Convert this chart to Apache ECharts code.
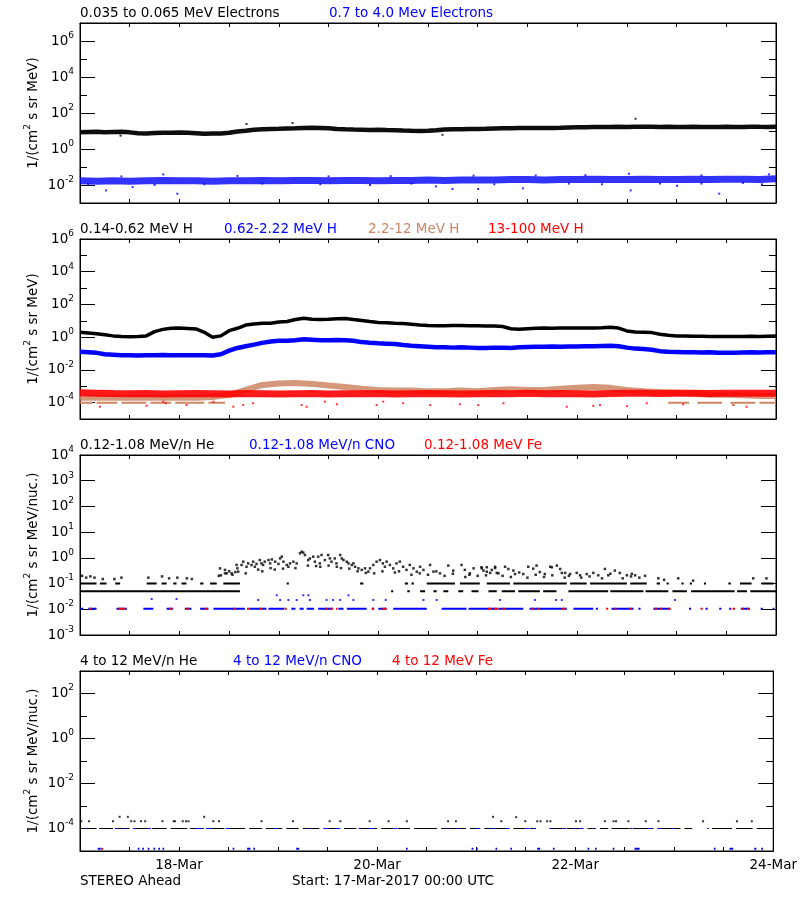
<!DOCTYPE html>
<html>
<head>
<meta charset="utf-8">
<script src="https://cdn.jsdelivr.net/npm/echarts@6/dist/echarts.min.js"></script>
<style>html,body{margin:0;padding:0;background:#fff;}#c{width:800px;height:900px;}</style>
</head>
<body>
<div id="c"></div>
<script>
// ---------- time grids (hours since 17-Mar-2017 00:00 UTC) ----------
const hours2 = [0,2,4,6,8,10,12,14,16,18,20,22,24,26,28,30,32,34,36,38,40,42,44,46,48,50,52,54,56,58,60,62,64,66,68,70,72,74,76,78,80,82,84,86,88,90,92,94,96,98,100,102,104,106,108,110,112,114,116,118,120,122,124,126,128,130,132,134,136,138,140,142,144,146,148,150,152,154,156,158,160,162,164,166,168];
const hours4 = [0,4,8,12,16,20,24,28,32,36,40,44,48,52,56,60,64,68,72,76,80,84,88,92,96,100,104,108,112,116,120,124,128,132,136,140,144,148,152,156,160,164,168];
const dayTickHours = [24,72,120,168];
const dayTickLabels = ['18-Mar','20-Mar','22-Mar','24-Mar'];

// ---------- panel 1: electrons ----------
const elecLow = [8.5,8.8,9.0,8.6,8.9,9.1,8.4,7.4,7.2,7.8,8.0,7.9,8.2,8.0,7.6,7.0,7.2,7.3,8.0,9.3,10.2,11.8,12.5,13.0,13.2,13.8,14.0,14.5,15.0,14.8,14.2,13.0,12.4,12.0,11.8,11.5,11.8,11.3,11.0,10.5,10.2,10.0,10.3,11.0,12.0,12.5,12.7,12.9,13.0,13.2,13.6,14.0,14.3,14.5,14.6,14.8,14.5,14.9,15.2,15.6,16.0,16.2,16.6,16.8,16.5,17.0,16.8,17.2,17.0,17.2,16.8,17.0,16.6,16.8,17.0,16.5,16.7,16.9,17.1,16.7,16.8,17.2,17.0,16.9,17.0];
const elecLowOut = [[9.8,5.5],[40.2,24.5],[51.3,27.7],[87.5,6.2],[134.1,48]];
const elecHigh = [0.017,0.016,0.017,0.016,0.017,0.018,0.017,0.017,0.016,0.017,0.017,0.018,0.017,0.018,0.018,0.017,0.018,0.018,0.017,0.018,0.018,0.019,0.018,0.019,0.019,0.019,0.020,0.020,0.019,0.020,0.020,0.021,0.020,0.020,0.021,0.020,0.020,0.021,0.020,0.021,0.021,0.020,0.022];
const elecHighOut = [[2,0.011],[6.3,0.005],[12.7,0.0077],[18,0.010],[23.5,0.0033],[30,0.011],[44,0.012],[58,0.011],[70,0.010],[80,0.012],[85.9,0.0084],[89.9,0.006],[96.1,0.006],[100,0.011],[106.9,0.0065],[118,0.012],[126,0.011],[132.9,0.005],[140,0.012],[144.1,0.009],[150,0.012],[154.3,0.0033],[160,0.013],[164.6,0.011],[10,0.030],[20.1,0.039],[38,0.032],[60,0.030],[75,0.031],[95,0.033],[110,0.034],[122,0.035],[132.5,0.042],[150,0.034],[166.3,0.039]];

// ---------- panel 2: protons ----------
const protA = [2.0,1.8,1.6,1.4,1.2,1.1,1.05,1.1,1.2,2.2,3.0,3.5,3.6,3.4,3.2,2.0,1.0,1.2,2.5,3.5,5.5,6.3,7.0,7.2,8.5,9.0,12,14.5,12.5,12,12.5,13.5,14,12,10.5,9,8,7.5,7.0,6.8,6.2,5.6,5.2,5.0,5.0,5.1,5.2,5.0,5.0,4.9,4.8,4.5,3.3,3.1,3.3,3.5,3.6,3.5,3.6,3.6,3.7,3.6,3.7,3.8,4.0,3.6,2.4,2.1,2.0,1.9,1.5,1.3,1.2,1.2,1.15,1.15,1.1,1.1,1.1,1.1,1.1,1.15,1.1,1.15,1.2];
const protB = [0.13,0.12,0.11,0.09,0.085,0.08,0.08,0.075,0.08,0.08,0.082,0.08,0.08,0.078,0.08,0.078,0.075,0.09,0.15,0.22,0.28,0.35,0.45,0.55,0.6,0.6,0.65,0.75,0.7,0.65,0.66,0.68,0.66,0.6,0.5,0.45,0.42,0.4,0.38,0.33,0.3,0.28,0.26,0.24,0.24,0.23,0.24,0.23,0.22,0.22,0.23,0.23,0.22,0.24,0.25,0.26,0.26,0.27,0.26,0.27,0.27,0.28,0.28,0.29,0.3,0.28,0.23,0.2,0.19,0.17,0.14,0.13,0.125,0.12,0.12,0.115,0.12,0.11,0.11,0.11,0.115,0.12,0.115,0.12,0.12];
const protC = [2.0e-4,2.0e-4,2.0e-4,2.0e-4,2.0e-4,2.0e-4,2.0e-4,2.0e-4,2.2e-4,3.0e-4,6e-4,1.2e-3,1.5e-3,1.6e-3,1.4e-3,1.1e-3,9e-4,7e-4,6e-4,5.5e-4,5.5e-4,5e-4,5e-4,5.5e-4,5e-4,6e-4,6.5e-4,6e-4,6e-4,7e-4,8e-4,9e-4,8e-4,6e-4,5e-4,4.5e-4,4e-4,3.5e-4,3e-4,3e-4,2.8e-4,2.5e-4,2.5e-4];
const protCFloor = [[0,3],[4,9],[10,16],[17,22],[23,30],[31,35],[142,147],[149,155],[157,163],[164,168]];
const protD = [4.0e-4,3.8e-4,3.6e-4,3.5e-4,3.6e-4,3.4e-4,3.5e-4,3.6e-4,3.5e-4,3.4e-4,3.6e-4,3.5e-4,3.4e-4,3.5e-4,3.6e-4,3.4e-4,3.5e-4,3.5e-4,3.6e-4,3.4e-4,3.5e-4,3.6e-4,3.5e-4,3.4e-4,3.5e-4,3.6e-4,3.5e-4,3.7e-4,3.5e-4,3.6e-4,3.5e-4,3.4e-4,3.6e-4,3.8e-4,3.7e-4,3.6e-4,3.8e-4,3.7e-4,3.6e-4,3.8e-4,3.7e-4,3.8e-4,3.7e-4];
const protDOut = [[4.8,5.6e-5],[16.1,6.5e-5],[20.1,1.15e-4],[20.7,9.2e-5],[25.7,7.1e-5],[32.2,1.15e-4],[37,5.6e-5],[39.4,7.1e-5],[41.8,9.2e-5],[53.5,7.1e-5],[54.7,5.6e-5],[59.1,1.15e-4],[62,7.9e-5],[71.6,7.1e-5],[73.2,1.15e-4],[78,9.2e-5],[84.5,7.1e-5],[91.7,7.9e-5],[96.1,7.1e-5],[102.2,9.2e-5],[117.5,5.6e-5],[123.9,6.4e-5],[125.5,7.1e-5],[132,6.1e-5],[136.8,9.2e-5],[145.6,7.9e-5],[157.7,7.1e-5],[160.9,5.6e-5]];

// ---------- panel 3: 0.12-1.08 MeV/n heavy ions ----------
const heLevelLow = 0.05, heLevelMid = 0.1, ionLevel = 0.0105;
const heLowSegs = [[0,38.6],[75.1,75.6],[79,79.6],[82.1,83.3],[85.3,86.1],[87.7,88.9],[91.3,92.5],[94.5,96.2],[98.6,100.6],[101.8,105],[105.8,111],[111.8,115],[117.9,127.5],[128,136],[136.5,142],[143,146.5],[147.5,158],[158.6,161],[161.8,168]];
const heMidSegs = [[0.1,4],[4.8,6.4],[8.5,9.7],[16.1,18.5],[19.7,20.9],[22.5,23.3],[24.5,25.7],[29,29.8],[31.4,33],[34.6,38.6],[49.9,50.4],[67.6,68.4],[78.4,79.2],[80,80.6],[83.7,90.5],[91.7,96.5],[98.2,103.8],[104.6,117.5],[118.3,122.3],[123.1,132],[132.8,136.8],[139.2,140],[141.6,142.1],[145.2,145.7],[147.2,147.7],[150.6,151.1],[156.5,157.1],[159.3,162.1],[164.5,167.4]];
const heCloud = [[0.5,0.2],[1.5,0.17],[2.5,0.19],[3.5,0.17],[5.5,0.15],[8.3,0.15],[10,0.17],[16.5,0.17],[19.8,0.19],[21.5,0.16],[23.5,0.17],[25.8,0.16],[27,0.15],[33.5,0.2],[35,0.25],[36,0.3],[36.8,0.22],[37.5,0.28],
[33.8,0.39],[35.0,0.34],[34.0,0.21],[35.4,0.25],[36.6,0.25],[37.8,0.53],[38.2,0.29],[38.0,0.39],[39.0,0.53],[39.4,0.71],[40.2,0.45],[40.6,0.61],[41.4,0.53],[41.8,0.71],[42.2,0.45],[42.6,0.58],[43.4,0.82],[43.8,0.61],[44.2,0.53],[44.6,0.71],[45.5,0.82],[45.9,0.61],[46.3,0.87],[47.1,0.71],[47.9,0.58],[48.3,0.95],[48.7,1.11],[49.1,0.71],[49.9,0.53],[50.3,0.45],[50.7,0.61],[51.5,0.71],[52.3,0.61],[53.1,1.5],[53.5,1.74],[53.9,1.6],[54.3,1.29],[55.1,0.82],[55.5,0.95],[56.3,1.11],[56.7,0.71],[57.5,1.11],[57.9,0.61],[58.3,1.29],[59.1,0.82],[59.9,1.29],[60.3,0.95],[60.7,0.71],[61.5,0.95],[61.9,0.61],[62.8,1.29],[63.2,0.95],[63.6,0.82],[64.4,0.71],[64.8,0.61],[65.6,0.53],[66.0,0.61],[66.4,0.45],[67.2,0.39],[68.0,0.34],[68.8,0.39],[69.6,0.29],[70.0,0.39],[70.8,0.53],[71.6,0.71],[72.4,0.82],[73.1,0.61],[73.6,0.45],[74.0,0.71],[74.8,0.53],[75.6,0.39],[76.4,0.61],[77.2,0.71],[78.0,0.45],[78.8,0.34],[79.6,0.53],[80.5,0.39],[81.3,0.29],[82.1,0.45],[82.9,0.34],[84.5,0.53],[85.3,0.29],[86.9,0.25],[88.9,0.5],[90.1,0.32],[92.1,0.53],[92.9,0.34],[94.1,0.25],[95.0,0.39],[97.0,0.39],[98.2,0.29],[99.4,0.34],[100.2,0.45],[101.0,0.25],
[96.9,0.43],[98.2,0.43],[100.2,0.4],[97.4,0.32],[99.0,0.26],[100.6,0.26],[102.6,0.45],[103.4,0.37],[104.6,0.32],[105.0,0.235],[107.0,0.235],[108.2,0.45],[109.4,0.38],[110.2,0.5],[111.0,0.28],[112.2,0.235],[113.5,0.45],[113.9,0.43],[115.1,0.5],[115.9,0.37],[116.3,0.26],[117.1,0.26],[118.3,0.235],[119.9,0.26],[120.7,0.21],[122.3,0.235],[123.9,0.26],[125.1,0.21],[126.7,0.37],[127.5,0.21],[129.1,0.32],[130.3,0.26],[132.0,0.21],[133.2,0.24],[134.0,0.21],[136.4,0.2],[139.6,0.16],[144.4,0.16],[162.5,0.16],[165.7,0.16],
[40,0.25],[44,0.3],[47,0.35],[52,0.4],[58,0.45],[63,0.4],[67,0.3],[71,0.25],[76,0.27],[80,0.22],[84,0.22],[88,0.2],[93,0.18],[96,0.2],[104,0.18],[108,0.17],[112,0.18],[117,0.17],[121,0.17],[126,0.16],[131,0.16],[135,0.17],[141,0.14],[148,0.13],
[43,0.35],[46,0.4],[49,0.38],[55,0.5],[57,0.48],[60,0.5],[62,0.45],[65,0.38],[69,0.26],[73,0.3],[77,0.3],[82,0.25],[86,0.3],[90,0.24],[94,0.22],[98,0.21],[102,0.2],[106,0.27],[110,0.22],[114,0.21],[118,0.2],[123,0.19],[128,0.24],[133,0.19]];
const cnoLowSegs = [[0.1,0.8],[2,4],[8.8,11.3],[15.3,17.7],[20.9,22.5],[25.3,26.9],[29,31],[32.2,39.8],[41,45],[45.5,49.3],[51,52],[53,54],[54.7,56.5],[57.5,61],[62.4,63.6],[64.4,69.2],[70.5,71],[72,74],[75.6,83.7],[87.3,93.3],[93.8,100.6],[101,107],[108.5,117.5],[119.1,123.9],[124.5,125],[128.3,133.6],[134.8,135.3],[138.4,142.4],[147,147.5],[151,151.5],[154.3,154.8],[156.7,157.2],[159.5,161.7],[164.3,164.8],[167.2,167.6]];
const cnoHighPts = [[17.3,0.025],[23.3,0.025],[43,0.023],[48.3,0.023],[50.3,0.023],[52.3,0.023],[55.5,0.023],[59.5,0.023],[61.1,0.023],[62.8,0.023],[66,0.023],[70.8,0.023],[73.8,0.023],[82.9,0.023],[86.1,0.023],[101.4,0.023],[109.8,0.023],[114.9,0.023],[116.3,0.023],[143.6,0.023],[47.5,0.035],[53.9,0.035],[55.1,0.035],[64.8,0.035]];
const feLowSegs = [[2.2,2.8],[9.3,10.8],[21.5,22.3],[25.6,26.2],[30.1,30.7],[37,37.6],[40.3,41],[43.3,44],[49.4,49.9],[59.2,59.8],[60.5,61.1],[61.8,62.2],[70.4,71],[73,74],[98.4,99.4],[100,101],[102,102.6],[109,109.6],[110.4,110.9],[116.3,117],[127,127.5],[129,129.5],[132.5,133.1],[138.7,139.2],[140,140.5],[142,142.6],[149.8,150.3],[157.5,158.1],[159.7,160.2],[161,161.5]];

// ---------- panel 4: 4-12 MeV/n heavy ions ----------
const oneCount4 = 1.0e-4, floor4 = 1.25e-5;
const he4Segs = [[0,4],[4.6,8],[8.6,12],[13,17],[17.5,21],[22,26],[26.6,30],[31,35],[35.8,40],[41,44],[45,49],[50,53],[54,58],[59,63],[64,67],[68,72],[73,76],[77,80],[81,86.5],[87.5,93.5],[94.5,97],[98,104],[105,108],[109,110.5],[113.8,117],[118,122],[123,125],[126,128],[128.8,133],[134,139],[140,145.5],[146.5,148.4],[153.2,158],[159,163],[164,168]];
const cno4Segs = [[1.5,1.9],[8.4,9.2],[10.4,11.2],[12.8,13.6],[16.4,17.2],[25.3,25.7],[28.1,29.7],[30.5,31.7],[35.3,36.1],[43.8,44.2],[47,47.8],[51.4,51.8],[55,55.8],[59.1,60.3],[61.9,63.1],[67.5,68.3],[69.9,71.1],[76,76.8],[88.8,89.6],[91.2,92],[96.1,96.9],[99.7,100.5],[103.3,104.1],[108.1,108.9],[109.7,110.1],[113.8,114.6],[117,117.8],[119.4,120.2],[121,121.8],[124.2,124.6],[133.1,133.9],[137.5,138.3],[139.9,140.7],[143.1,143.9],[152,152.4]];
const he4Dots = [[0.3,2.1e-4],[2.2,2.1e-4],[8,2.1e-4],[9.6,3.3e-4],[11.6,3.3e-4],[12.4,2.1e-4],[13.2,2.1e-4],[14.8,2.1e-4],[15.8,2.1e-4],[20,2.1e-4],[22.7,2.1e-4],[23,2.1e-4],[24.9,2.1e-4],[25.7,2.1e-4],[26.3,2.1e-4],[30.1,3.3e-4],[32.3,2.1e-4],[33.7,2.1e-4],[44,2.1e-4],[51.6,2.1e-4],[60.5,2.1e-4],[63.1,2.1e-4],[70.2,2.1e-4],[74.8,2.1e-4],[79.2,2.1e-4],[89.2,2.1e-4],[91.1,2.1e-4],[100.1,3.3e-4],[102.1,2.1e-4],[105.7,3.2e-4],[107.9,2.1e-4],[110.8,2.1e-4],[111.6,2.1e-4],[113.2,2.1e-4],[114,2.1e-4],[120.2,2.1e-4],[121.2,2.1e-4],[127.2,2.1e-4],[129.3,2.1e-4],[129.9,2.1e-4],[132.9,2.1e-4],[137.1,2.1e-4],[140.2,2.1e-4],[151,2.1e-4],[159.2,2.1e-4],[162.8,2.1e-4]];
const cno4Bottom = [[4.3,5],[14,14.4],[15.1,15.5],[16.4,16.8],[17.8,18.2],[19,19.4],[20,20.4],[37,37.4],[40.5,41.3],[42,42.4],[52.4,53.1],[79,79.4],[94.9,95.3],[96,96.4],[100.7,101.1],[104.3,104.7],[110.8,111.5],[114.6,115],[123,123.4],[124.8,125.2],[129.1,129.5],[134.4,135.6],[153.6,154],[157.4,158.3],[163.4,163.9],[165.1,165.5]];
const fe4Bottom = [[5.1,5.6]];

// ---------- y-axis decade ticks ----------
const p1Major = [1e-2,1,1e2,1e4,1e6], p1Minor = [1e-1,1e1,1e3,1e5];
const p2Major = [1e-4,1e-2,1,1e2,1e4,1e6], p2Minor = [1e-3,1e-1,1e1,1e3,1e5];
const p3Major = [1e-3,1e-2,1e-1,1,1e1,1e2,1e3,1e4], p3Minor = [];
const p4Major = [1e-4,1e-2,1,1e2], p4Minor = [1e-3,1e-1,1e1];

// ---------- colours / fonts ----------
const FONT = 'DejaVu Sans';
const BLACK = '#000000', BLUE = '#0000ff', RED = '#ff0000', TAN = '#cd8562';

function zip(xs, ys) { return xs.map((x, i) => [x, ys[i]]); }
function segData(segs, v) {
  const d = [];
  segs.forEach(s => { d.push([s[0], v]); d.push([s[1], v]); d.push([s[1], '-']); });
  return d;
}
function powLabel(v) { return '10{s|' + Math.round(Math.log10(v)) + '}'; }

const gridTops = [23, 239, 455, 671];
const grids = gridTops.map(t => ({left: 80, width: 696, top: t, height: 180, show: true, borderColor: '#000', borderWidth: 1, backgroundColor: 'transparent'}));

function xAx(g, pos, showLabel) {
  return {
    type: 'value', gridIndex: g, position: pos, min: 0, max: 168, interval: 12,
    axisLine: {show: true, onZero: false, lineStyle: {color: '#000', width: 1}},
    axisTick: {show: true, inside: true, length: 4, lineStyle: {color: '#000'}},
    axisLabel: showLabel ? {show: true, customValues: dayTickHours, margin: 7, color: '#000', fontFamily: FONT, fontSize: 13.5,
      formatter: v => { const i = dayTickHours.indexOf(v); return i >= 0 ? dayTickLabels[i] : ''; }} : {show: false},
    splitLine: {show: false}
  };
}
const nameStyle = {color: '#000', fontFamily: FONT, fontSize: 13.5, lineHeight: 20,
  rich: {s: {fontSize: 9, lineHeight: 9, verticalAlign: 'top', fontFamily: FONT, color: '#000'}}};
function yAxes(g, min, max, major, minor, name) {
  const base = {type: 'log', logBase: 10, gridIndex: g, min: min, max: max, splitLine: {show: false}};
  const longTick = {show: true, inside: true, length: 15, customValues: major, lineStyle: {color: '#000'}};
  const shortTick = minor.length ? {show: true, inside: true, length: 7, customValues: minor, lineStyle: {color: '#000'}} : {show: false};
  return [
    Object.assign({}, base, {position: 'left', axisLine: {show: true, onZero: false, lineStyle: {color: '#000'}}, axisTick: longTick,
      axisLabel: {show: true, customValues: major, formatter: powLabel, margin: 6, color: '#000', fontFamily: FONT, fontSize: 13.5, lineHeight: 20,
        rich: {s: {fontSize: 9, lineHeight: 9, verticalAlign: 'top', fontFamily: FONT, color: '#000'}}},
      name: name, nameLocation: 'middle', nameGap: 37, nameRotate: 90, nameMoveOverlap: false, nameTextStyle: nameStyle}),
    Object.assign({}, base, {position: 'left', axisLine: {show: false, onZero: false}, axisTick: shortTick, axisLabel: {show: false}}),
    Object.assign({}, base, {position: 'right', axisLine: {show: true, onZero: false, lineStyle: {color: '#000'}}, axisTick: longTick, axisLabel: {show: false}}),
    Object.assign({}, base, {position: 'right', axisLine: {show: false, onZero: false}, axisTick: shortTick, axisLabel: {show: false}})
  ];
}
const nameE = '1/(cm{s|2} s sr MeV)';
const nameN = '1/(cm{s|2} s sr MeV/nuc.)';

const xAxes = [];
[0, 1, 2, 3].forEach(g => { xAxes.push(xAx(g, 'bottom', g === 3)); xAxes.push(xAx(g, 'top', false)); });
const yAxesAll = [].concat(
  yAxes(0, 1e-3, 1e7, p1Major, p1Minor, nameE),
  yAxes(1, 1e-5, 1e6, p2Major, p2Minor, nameE),
  yAxes(2, 1e-3, 1e4, p3Major, p3Minor, nameN),
  yAxes(3, 1e-5, 1e3, p4Major, p4Minor, nameN)
);

function line(g, data, color, width, opacity) {
  return {type: 'line', xAxisIndex: 2 * g, yAxisIndex: 4 * g, data: data, symbol: 'none', showSymbol: false,
    lineStyle: {color: color, width: width, opacity: opacity == null ? 1 : opacity}, itemStyle: {color: color}, connectNulls: false, silent: true, z: 2};
}
function dots(g, data, color, size) {
  return {type: 'scatter', xAxisIndex: 2 * g, yAxisIndex: 4 * g, data: data, symbol: 'rect', symbolSize: size || 2,
    itemStyle: {color: color}, silent: true, z: 3};
}

const series = [
  // panel 1
  line(0, zip(hours4, elecHigh), BLUE, 7, 0.8),
  dots(0, elecHighOut, BLUE, 2),
  line(0, zip(hours2, elecLow), BLACK, 4.5, 0.95),
  dots(0, elecLowOut, BLACK, 2),
  // panel 2
  line(1, zip(hours4, protC), TAN, 6, 0.85),
  line(1, segData(protCFloor, 1.0e-4), TAN, 2),
  line(1, zip(hours4, protD), RED, 7, 0.9),
  dots(1, protDOut, RED, 2),
  line(1, zip(hours2, protB), BLUE, 4.5),
  line(1, zip(hours2, protA), BLACK, 3.5),
  // panel 3
  line(2, segData(heLowSegs, heLevelLow), BLACK, 2),
  line(2, segData(heMidSegs, heLevelMid), BLACK, 2),
  dots(2, heCloud, BLACK, 2.5),
  line(2, segData(cnoLowSegs, ionLevel), BLUE, 2),
  dots(2, cnoHighPts, BLUE, 2),
  line(2, segData(feLowSegs, ionLevel), RED, 2),
  // panel 4
  line(3, segData(he4Segs, oneCount4), BLACK, 1),
  line(3, segData(cno4Segs, oneCount4), BLUE, 1),
  dots(3, he4Dots, BLACK, 2),
  line(3, segData(cno4Bottom, floor4), BLUE, 2),
  line(3, segData(fe4Bottom, floor4), RED, 2)
];

const tStyle = c => ({color: c, fontFamily: FONT, fontSize: 13.5, fontWeight: 'normal', lineHeight: 16});
const titles = [
  {text: '0.035 to 0.065 MeV Electrons', left: 80, top: 5, c: BLACK},
  {text: '0.7 to 4.0 Mev Electrons', left: 329, top: 5, c: BLUE},
  {text: '0.14-0.62 MeV H', left: 80, top: 221, c: BLACK},
  {text: '0.62-2.22 MeV H', left: 224, top: 221, c: BLUE},
  {text: '2.2-12 MeV H', left: 368, top: 221, c: TAN},
  {text: '13-100 MeV H', left: 488, top: 221, c: RED},
  {text: '0.12-1.08 MeV/n He', left: 80, top: 437, c: BLACK},
  {text: '0.12-1.08 MeV/n CNO', left: 249, top: 437, c: BLUE},
  {text: '0.12-1.08 MeV Fe', left: 424, top: 437, c: RED},
  {text: '4 to 12 MeV/n He', left: 80, top: 653, c: BLACK},
  {text: '4 to 12 MeV/n CNO', left: 233, top: 653, c: BLUE},
  {text: '4 to 12 MeV Fe', left: 392, top: 653, c: RED},
  {text: 'STEREO Ahead', left: 80, top: 873, c: BLACK},
  {text: 'Start: 17-Mar-2017 00:00 UTC', left: 292, top: 873, c: BLACK}
].map(t => ({text: t.text, left: t.left, top: t.top, padding: 0, itemGap: 0, textStyle: tStyle(t.c)}));

const chart = echarts.init(document.getElementById('c'), null, {renderer: 'canvas'});
chart.setOption({
  animation: false,
  backgroundColor: '#ffffff',
  title: titles,
  grid: grids,
  xAxis: xAxes,
  yAxis: yAxesAll,
  series: series
});
</script>
</body>
</html>
